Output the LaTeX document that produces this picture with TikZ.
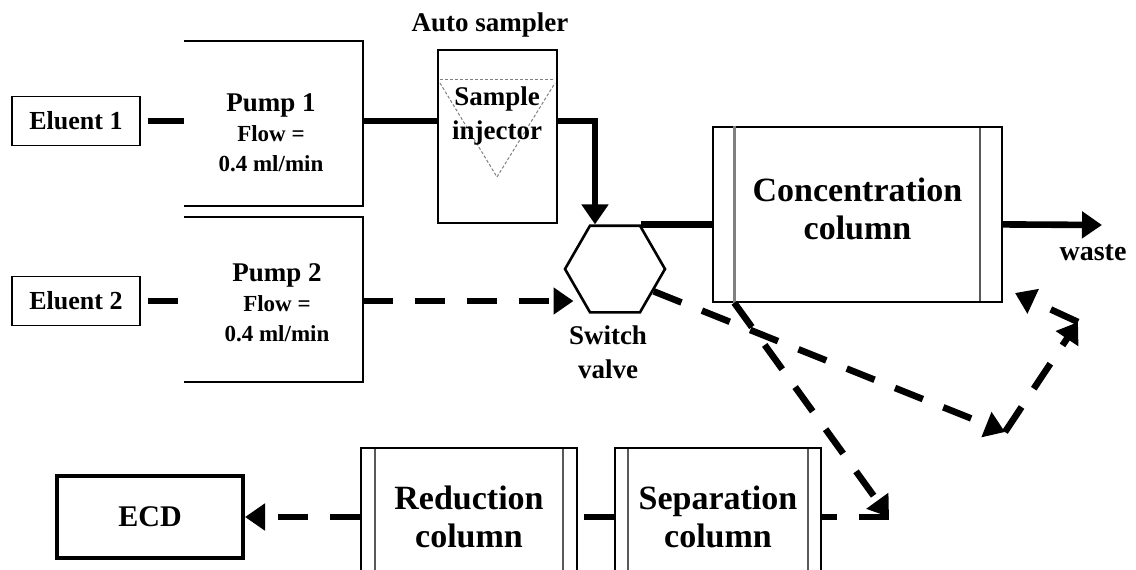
\documentclass[tikz,border=0pt]{standalone}
\usepackage{fontspec}
\setmainfont{Liberation Serif}
\usetikzlibrary{arrows.meta, shapes.geometric, calc}
\tikzset{
  every picture/.style={font=\bfseries, line width=0.75pt},
  box/.style={draw, inner sep=0pt, align=center},
  lab/.style={font=\bfseries\fontsize{13.5}{17}\selectfont, align=center},
  big/.style={font=\bfseries\fontsize{17}{19}\selectfont, align=center},
  note/.style={font=\bfseries\fontsize{11.5}{15}\selectfont, align=center},
  flow/.style={line width=3.3pt},
  dflow/.style={flow, dash pattern=on 15pt off 11pt},
  arrow/.style={-{Triangle[length=10pt, width=13pt]}},
  col/.style={box, path picture={
    \draw[gray!70!black, line width=0.6pt]
      ([xshift=#1]path picture bounding box.south west) -- ([xshift=#1]path picture bounding box.north west)
      ([xshift=-#1]path picture bounding box.south east) -- ([xshift=-#1]path picture bounding box.north east);}},
}
\begin{document}
\begin{tikzpicture}[x=0.5pt, y=-0.5pt,
  pump/.style={inner sep=0pt, minimum width=88.5pt, minimum height=82pt},
  eluent/.style={box, lab, font=\bfseries\fontsize{13}{15}\selectfont, minimum width=64pt, minimum height=24.5pt}]
  \useasboundingbox (0,0) rectangle (1136,569);
  \clip (0,0) rectangle (1136,569);
  \node[eluent] (e1) at (76,121) {Eluent 1};
  \node[eluent] (e2) at (76,301) {Eluent 2};
  \node[pump] (p1) at (273.5,123.5) {};
  \node[pump] (p2) at (273.5,299.5) {};
  \foreach \p in {p1,p2}
    \draw[line width=1pt] (\p.north west) -- (\p.north east) -- (\p.south east) -- (\p.south west);
  \node[note] (p1t) at (271,133) {{\fontsize{13.5}{16}\selectfont Pump 1}\\Flow =\\0.4 ml/min};
  \node[note] (p2t) at (277,303) {{\fontsize{13.5}{16}\selectfont Pump 2}\\Flow =\\0.4 ml/min};
  \node[box, minimum width=59.5pt, minimum height=86.5pt] (samp) at (497.5,136.5) {};
  \draw[gray, line width=0.5pt, dash pattern=on 1.5pt off 1pt] (440,79) -- (555,79);
  \draw[gray, line width=0.5pt, dash pattern=on 1.5pt off 1pt] (440,83) -- (497,177) -- (555,83);
  \node[lab] (auto) at (490,25) {Auto sampler};
  \node[lab] (inj) at (497,116) {Sample\\injector};
  \node[draw, regular polygon, regular polygon sides=6, minimum size=50pt, inner sep=0pt, line width=1.3pt] (valve) at (615,269) {};
  \node[lab] (vlab) at (608,352) {Switch\\valve};
  \node[col=11pt, big, minimum width=144.5pt, minimum height=87.5pt] (conc) at (857.5,214.5) {Concentration\\column\\[-13pt]};
  \draw[gray, line width=1.5pt] ([xshift=11pt]conc.south west) -- ([xshift=11pt]conc.north west);
  \node[lab, font=\bfseries\fontsize{14}{16}\selectfont] (waste) at (1093,253) {waste};
  \coordinate (wend) at (1102,225);
  \node[box, big, font=\bfseries\fontsize{15}{17}\selectfont, line width=2pt, minimum width=93pt, minimum height=41pt] (ecd) at (150,517) {ECD};
  \node[col=7pt, big, minimum width=108pt, minimum height=69pt] (red) at (469,517) {Reduction\\column};
  \node[col=6.5pt, big, minimum width=103pt, minimum height=69pt] (sep) at (718,517) {Separation\\column};
  \coordinate (B) at (1005,432);
  \coordinate (C) at (1078,322);
  \coordinate (cin) at (1015,293);
  \coordinate (S) at (889,517);

  \draw[flow] ([xshift=3.5pt]e1.east) -- (e1.east -| p1.west);
  \draw[flow] (e1.east -| p1.east) -- (e1.east -| samp.west);
  \draw[flow, arrow] (e1.east -| samp.east) -| ([xshift=-10pt]valve.north);
  \draw[flow] (valve.60) -- (valve.60 -| conc.west);
  \draw[flow, arrow] (valve.60 -| conc.east) -- (wend);
  \draw[dflow] ([xshift=3.5pt]e2.east) -- (e2.east -| p2.west);
  \draw[dflow, arrow] (e2.east -| p2.east) -- ([xshift=5pt]e2.east -| valve.west);
  \draw[dflow, arrow] (valve.-30) -- (B);
  \draw[dflow, arrow] (B) -- (C);
  \draw[dflow, arrow] (C) -- (cin);
  \draw[dflow, arrow] ([xshift=11pt]conc.south west) -- (S);
  \draw[dflow] (S) -- (sep.east);
  \draw[dflow] (sep.west) -- (red.east);
  \draw[dflow, arrow] (red.west) -- (ecd.east);
\end{tikzpicture}
\end{document}
